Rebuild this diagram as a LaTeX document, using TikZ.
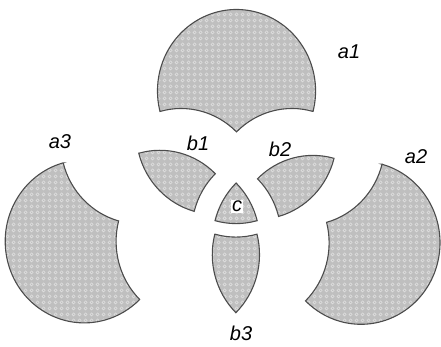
\documentclass[tikz,border=0pt]{standalone}
\usepackage{fontspec}
\setmainfont{Liberation Sans}
\usetikzlibrary{patterns}

% small light rings laid over the grey fill of every region
\pgfdeclarepatternformonly{rings}{\pgfqpoint{0pt}{0pt}}{\pgfqpoint{6pt}{6pt}}{\pgfqpoint{6pt}{6pt}}{%
  \pgfsetlinewidth{0.7pt}%
  \pgfpathcircle{\pgfqpoint{3pt}{3pt}}{1.8pt}%
  \pgfusepath{stroke}%
}

\begin{document}
\begin{tikzpicture}[x=1pt,y=1pt,
  piece/.style={draw=black!70, line width=1.1pt, preaction={fill=black!25},
                pattern=rings, pattern color=white!88!black},
  lbl/.style={font=\fontsize{20}{22}\selectfont\itshape, inner sep=0pt},
  region/.style={xscale=0.97}]
\def\R{81.5}
\useasboundingbox (0,0) rectangle (441,347);

% Three circles A (top), B (lower right), C (lower left), radius 81.5,
% centres 66 from the middle; each region is cut out and moved apart.

% a1 = A only
\begin{scope}[shift={(236.5,190)}, region]
\path[piece] (78.892,45.549)
  arc[start angle=-14.534, end angle=194.534, radius=\R]
  arc[start angle=105.466, end angle=45.466, radius=\R]
  arc[start angle=134.534, end angle=74.534, radius=\R] -- cycle;
\end{scope}

% a2 = B only
\begin{scope}[shift={(305.5,137.2)}, region]
\path[piece] (78.892,45.549)
  arc[start angle=74.534, end angle=-134.534, radius=\R]
  arc[start angle=-45.466, end angle=14.534, radius=\R]
  arc[start angle=285.466, end angle=345.466, radius=\R] -- cycle;
\end{scope}

% a3 = C only
\begin{scope}[shift={(139.7,138.6)}, region]
\path[piece] (-78.892,45.549)
  arc[start angle=105.466, end angle=314.534, radius=\R]
  arc[start angle=225.466, end angle=165.466, radius=\R]
  arc[start angle=254.534, end angle=194.534, radius=\R] -- cycle;
\end{scope}

% b1 = A and C, not B
\begin{scope}[shift={(215.3,148.2)}, region]
\path[piece] (-78.892,45.549)
  arc[start angle=105.466, end angle=45.466, radius=\R]
  arc[start angle=134.534, end angle=165.466, radius=\R]
  arc[start angle=254.534, end angle=194.534, radius=\R] -- cycle;
\end{scope}

% b2 = A and B, not C
\begin{scope}[shift={(257.5,143.1)}, region]
\path[piece] (78.892,45.549)
  arc[start angle=74.534, end angle=134.534, radius=\R]
  arc[start angle=45.466, end angle=14.534, radius=\R]
  arc[start angle=285.466, end angle=345.466, radius=\R] -- cycle;
\end{scope}

% b3 = B and C, not A
\begin{scope}[shift={(235.9,125.4)}, region]
\path[piece] (-21.735,-12.549)
  arc[start angle=254.534, end angle=285.466, radius=\R]
  arc[start angle=14.534, end angle=-45.466, radius=\R]
  arc[start angle=225.466, end angle=165.466, radius=\R] -- cycle;
\end{scope}

% c = all three
\begin{scope}[shift={(236.1,138.9)}, region]
\path[piece] (-21.735,-12.549)
  arc[start angle=254.534, end angle=285.466, radius=\R]
  arc[start angle=14.534, end angle=45.466, radius=\R]
  arc[start angle=134.534, end angle=165.466, radius=\R] -- cycle;
\end{scope}

% labels
\node[lbl] (la1) at (349,295) {a1};
\node[lbl] (la2) at (416,190) {a2};
\node[lbl] (la3) at (60,205) {a3};
\node[lbl] (lb1) at (198,204) {b1};
\node[lbl] (lb2) at (280,198) {b2};
\node[lbl] (lb3) at (241,14) {b3};
\node[lbl, fill=white, inner sep=1pt] (lc) at (237,140.5) {c};
\end{tikzpicture}
\end{document}
